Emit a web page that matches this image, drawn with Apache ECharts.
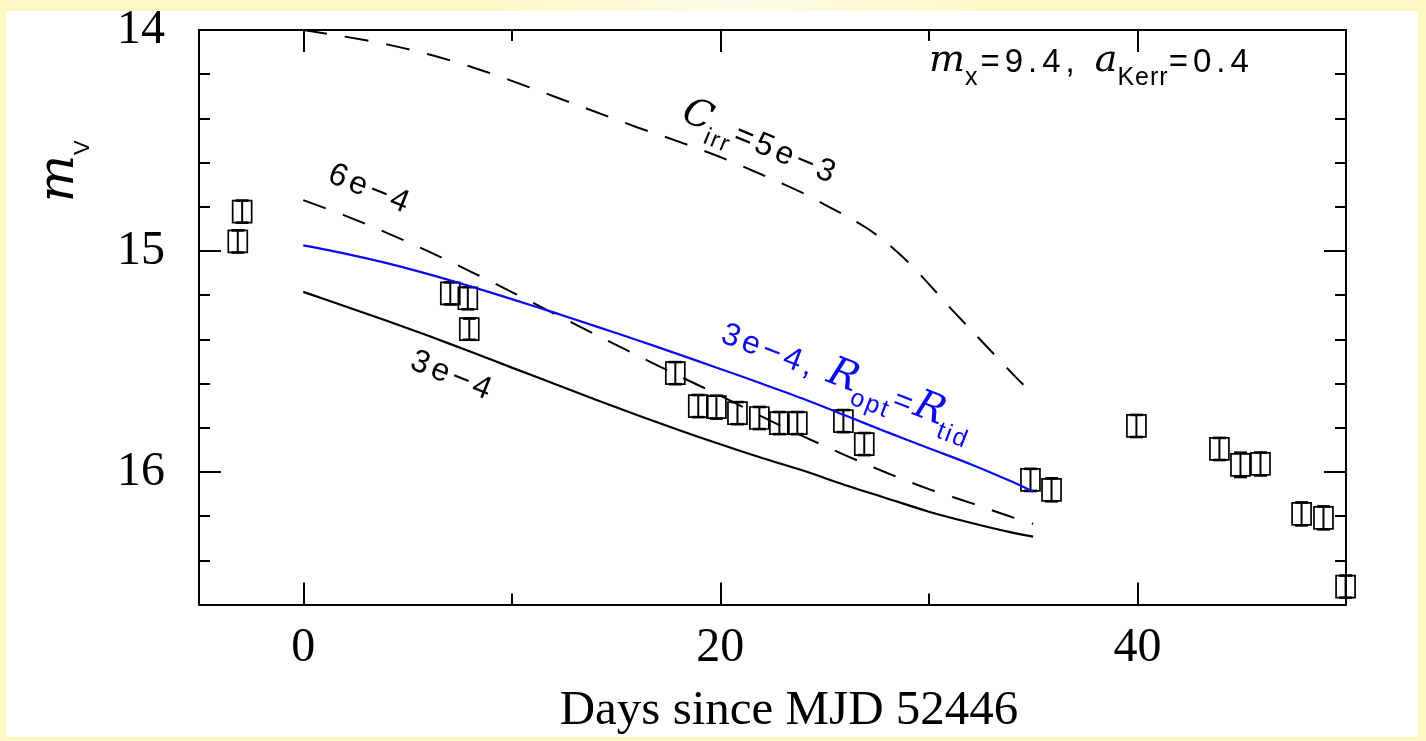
<!DOCTYPE html>
<html>
<head>
<meta charset="utf-8">
<script src="https://cdn.jsdelivr.net/npm/echarts@6/dist/echarts.min.js"></script>
<style>
  html, body { margin: 0; padding: 0; width: 1426px; height: 741px; overflow: hidden; }
  body { background: radial-gradient(ellipse 300px 38px at 740px 0px, #fefcea 0%, #fdf9d2 60%, #fcf7c3 100%); }
  #panel { position: absolute; left: 6px; top: 11px; width: 1412px; height: 726px; background: #ffffff; }
  #chart { position: absolute; left: 0; top: 0; width: 1426px; height: 741px; }
</style>
</head>
<body>
<div id="panel"></div>
<div id="chart"></div>
<script>
// ---- Observed V-band light curve ----
const obsDays = [-2.93, -3.14, 7.05, 7.89, 7.96, 17.84, 18.94, 19.81, 20.82, 21.87, 22.83, 23.69,
                 25.90, 26.90, 34.87, 35.88, 39.95, 43.93, 44.94, 45.90, 47.87, 48.92, 49.98];
const obsMag  = [14.822, 14.957, 15.192, 15.214, 15.354, 15.553, 15.702, 15.707, 15.734, 15.756, 15.779, 15.779,
                 15.770, 15.874, 16.036, 16.081, 15.792, 15.896, 15.968, 15.964, 16.190, 16.208, 16.519];
const obsErr  = [0.050, 0.050, 0.050, 0.050, 0.048, 0.050, 0.050, 0.052, 0.050, 0.050, 0.050, 0.050,
                 0.050, 0.050, 0.050, 0.052, 0.050, 0.050, 0.055, 0.052, 0.052, 0.052, 0.050];

// ---- Irradiated-disc model light curves ----
const modelDays   = [0, 2, 4, 6, 8, 10, 12, 14, 16, 18, 20, 22, 24, 26, 28, 30, 32, 34, 35];
const modelIrr3e4 = [15.185, 15.250, 15.316, 15.384, 15.455, 15.528, 15.600, 15.672, 15.742, 15.810,
                     15.875, 15.937, 15.995, 16.060, 16.120, 16.180, 16.230, 16.275, 16.293];
const modelIrr6e4 = [14.770, 14.840, 14.918, 15.002, 15.092, 15.186, 15.282, 15.378, 15.472, 15.565,
                     15.655, 15.750, 15.840, 15.925, 16.005, 16.078, 16.140, 16.205, 16.235];
const modelTidal  = [14.975, 15.012, 15.055, 15.105, 15.160, 15.218, 15.278, 15.340, 15.403, 15.468,
                     15.534, 15.601, 15.670, 15.745, 15.820, 15.893, 15.965, 16.045, 16.090];
const irr5e3Days  = [0, 2, 4, 6, 8, 10, 12, 14, 16, 18, 20, 22, 24, 25, 26, 27, 28, 29, 30, 31, 32, 33, 34, 35];
const modelIrr5e3 = [14.000, 14.030, 14.065, 14.110, 14.165, 14.230, 14.300, 14.370, 14.440, 14.505, 14.575, 14.655,
                     14.740, 14.790, 14.840, 14.895, 14.965, 15.050, 15.150, 15.255, 15.355, 15.455, 15.555, 15.650];

// ---- Axis ticks ----
const xMajorTicks = [0, 20, 40];
const xMinorTicks = [10, 30];
const yMajorTicks = [14, 15, 16];
const yMinorTicks = [14.2, 14.4, 14.6, 14.8, 15.2, 15.4, 15.6, 15.8, 16.2, 16.4];

const X_MIN = -5, X_MAX = 50, Y_MIN = 14, Y_MAX = 16.6;
const INK = '#000000';
const BLUE = '#0a0af0';
const SANS = 'Liberation Sans';
const MATH = 'DejaVu Serif';

// Text annotations: pieces are laid out glyph by glyph along a rotated baseline
const notes = [
  { at: [30.0, 14.203], angle: 0, color: INK, pieces: [
      { t: 'm', fam: MATH, size: 38, it: true },
      { t: 'x', fam: SANS, size: 25, dy: 12, ls: 3 },
      { t: '=9.4,', fam: SANS, size: 33, ls: 5 },
      { gap: 15 },
      { t: 'a', fam: MATH, size: 38, it: true },
      { t: 'Kerr', fam: SANS, size: 25, dy: 12, ls: 1 },
      { t: '=0.4', fam: SANS, size: 33, ls: 5 } ] },
  { at: [18.0, 14.42], angle: 22.5, color: INK, pieces: [
      { t: 'C', fam: MATH, size: 38, it: true },
      { t: 'irr', fam: SANS, size: 24, dy: 11, ls: 2 },
      { t: '=5e\u22123', fam: SANS, size: 32, ls: 4 } ] },
  { at: [1.06, 14.695], angle: 22, color: INK, pieces: [
      { t: '6e\u22124', fam: SANS, size: 32, ls: 4 } ] },
  { at: [5.0, 15.54], angle: 22, color: INK, pieces: [
      { t: '3e\u22124', fam: SANS, size: 32, ls: 4 } ] },
  { at: [19.9, 15.42], angle: 21, color: BLUE, pieces: [
      { t: '3e\u22124,', fam: SANS, size: 32, ls: 4 },
      { gap: 12 },
      { t: 'R', fam: MATH, size: 40, it: true },
      { t: 'opt', fam: SANS, size: 25, dy: 11, ls: 2 },
      { t: '=', fam: SANS, size: 32, ls: 3 },
      { t: 'R', fam: MATH, size: 40, it: true },
      { t: 'tid', fam: SANS, size: 25, dy: 11, ls: 2 } ] },
  { at: [-10.84, 14.78], angle: -90, color: INK, pieces: [
      { t: 'm', fam: MATH, size: 50, it: true },
      { t: 'V', fam: SANS, size: 22, dy: 13 } ] }
];

const measureCtx = document.createElement('canvas').getContext('2d');

function glyphRun(pieces, color) {
  const out = [];
  let x = 0;
  pieces.forEach(function (p) {
    if (p.gap) { x += p.gap; return; }
    measureCtx.font = (p.it ? 'italic ' : '') + p.size + 'px "' + p.fam + '"';
    for (const ch of p.t) {
      out.push({
        type: 'text',
        style: {
          text: ch, x: x, y: (p.dy || 0) - 0.35 * p.size,
          fontSize: p.size, fontFamily: p.fam, fontStyle: p.it ? 'italic' : 'normal',
          fill: color, align: 'left', verticalAlign: 'middle'
        }
      });
      x += measureCtx.measureText(ch).width + (p.ls || 0);
    }
  });
  return out;
}

function renderNote(params, api) {
  const n = notes[params.dataIndex];
  const p = api.coord([api.value(0), api.value(1)]);
  return {
    type: 'group', x: p[0], y: p[1], rotation: -n.angle * Math.PI / 180,
    silent: true, children: glyphRun(n.pieces, n.color)
  };
}

function renderObs(params, api) {
  const d = api.value(0), m = api.value(1), e = api.value(2);
  const c = api.coord([d, m]);
  const top = api.coord([d, m - e]);
  const bot = api.coord([d, m + e]);
  const st = { stroke: INK, lineWidth: 2 };
  return {
    type: 'group', children: [
      { type: 'rect', shape: { x: c[0] - 9.5, y: c[1] - 11, width: 19, height: 22 },
        style: { stroke: INK, fill: 'none', lineWidth: 1.7 } },
      { type: 'line', shape: { x1: c[0], y1: top[1], x2: c[0], y2: bot[1] }, style: st },
      { type: 'line', shape: { x1: c[0] - 6.5, y1: top[1], x2: c[0] + 6.5, y2: top[1] }, style: { stroke: INK, lineWidth: 2.6 } },
      { type: 'line', shape: { x1: c[0] - 6.5, y1: bot[1], x2: c[0] + 6.5, y2: bot[1] }, style: { stroke: INK, lineWidth: 2.6 } }
    ]
  };
}

function pairs(xs, ys) { return xs.map(function (x, i) { return [x, ys[i]]; }); }

const tickStyle = { color: INK, width: 2 };
function xAxisDef(pos, ticks, len, withLine, withLabels) {
  const a = {
    type: 'value', min: X_MIN, max: X_MAX, position: pos,
    axisLine: { show: withLine, onZero: false, lineStyle: { color: INK, width: 2 } },
    axisTick: { show: true, inside: true, length: len, customValues: ticks, lineStyle: tickStyle },
    axisLabel: { show: withLabels, customValues: ticks, margin: 20,
                 fontFamily: 'Liberation Serif', fontSize: 48, color: INK },
    splitLine: { show: false }
  };
  if (withLabels) {
    a.name = 'Days since MJD 52446';
    a.nameLocation = 'middle';
    a.nameGap = 107;
    a.nameTextStyle = { fontFamily: 'Liberation Serif', fontSize: 49, color: INK,
                        verticalAlign: 'middle', padding: [0, 0, 0, 33] };
  }
  return a;
}
function yAxisDef(pos, ticks, len, withLine, withLabels) {
  return {
    type: 'value', min: Y_MIN, max: Y_MAX, inverse: true, position: pos,
    axisLine: { show: withLine, onZero: false, lineStyle: { color: INK, width: 2 } },
    axisTick: { show: true, inside: true, length: len, customValues: ticks, lineStyle: tickStyle },
    axisLabel: { show: withLabels, customValues: ticks, margin: 34,
                 fontFamily: 'Liberation Serif', fontSize: 48, color: INK },
    splitLine: { show: false }
  };
}

const chart = echarts.init(document.getElementById('chart'), null, { renderer: 'canvas' });
chart.setOption({
  animation: false,
  backgroundColor: 'transparent',
  grid: { left: 199, top: 30, width: 1147, height: 575, containLabel: false },
  xAxis: [
    xAxisDef('bottom', xMajorTicks, 22, true, true),
    xAxisDef('bottom', xMinorTicks, 11, false, false),
    xAxisDef('top', xMajorTicks, 22, true, false),
    xAxisDef('top', xMinorTicks, 11, false, false)
  ],
  yAxis: [
    yAxisDef('left', yMajorTicks, 22, true, true),
    yAxisDef('left', yMinorTicks, 11, false, false),
    yAxisDef('right', yMajorTicks, 22, true, false),
    yAxisDef('right', yMinorTicks, 11, false, false)
  ],
  series: [
    { name: 'Cirr=5e-3', type: 'line', data: pairs(irr5e3Days, modelIrr5e3), showSymbol: false,
      smooth: 0.3, lineStyle: { color: INK, width: 2, type: [24, 18] } },
    { name: 'Cirr=6e-4', type: 'line', data: pairs(modelDays, modelIrr6e4), showSymbol: false,
      smooth: 0.3, lineStyle: { color: INK, width: 2, type: [24, 18] } },
    { name: 'Cirr=3e-4', type: 'line', data: pairs(modelDays, modelIrr3e4), showSymbol: false,
      smooth: 0.3, lineStyle: { color: INK, width: 2.2 } },
    { name: '3e-4, Ropt=Rtid', type: 'line', data: pairs(modelDays, modelTidal), showSymbol: false,
      smooth: 0.3, lineStyle: { color: BLUE, width: 2.2 } },
    { name: 'V band', type: 'custom', renderItem: renderObs, clip: false,
      encode: { x: 0, y: 1 },
      data: obsDays.map(function (d, i) { return [d, obsMag[i], obsErr[i]]; }) },
    { name: 'notes', type: 'custom', renderItem: renderNote, clip: false, silent: true,
      encode: { x: 0, y: 1 },
      data: notes.map(function (n) { return n.at; }) }
  ]
});
</script>
</body>
</html>
